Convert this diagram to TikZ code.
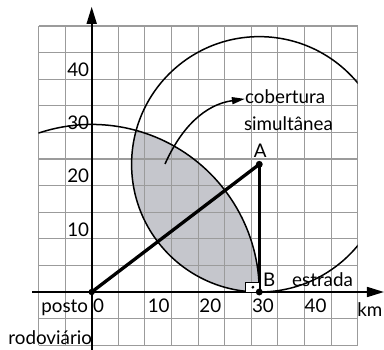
\documentclass[tikz,border=0pt]{standalone}
\usepackage{fontspec}
\setmainfont{Lato}
\usetikzlibrary{arrows.meta}
\definecolor{shadec}{RGB}{197,198,204}
\definecolor{gridc}{RGB}{155,155,155}
\begin{document}
\begin{tikzpicture}[x=5.32bp,y=5.32bp,
  gridline/.style={draw=gridc,line width=1.1bp},
  circ/.style={draw=black,line width=1.5bp},
  axis/.style={draw=black,line width=1.6bp,-{Triangle[length=17bp,width=10bp]}},
  seg/.style={draw=black,line width=3.3bp},
  lbl/.style={inner sep=0pt,font=\fontsize{18.8bp}{20bp}\selectfont},
  dotc/.style={fill=black}]
\useasboundingbox (-17.237,-10.902) rectangle (54.944,54.887);
\coordinate (O) at (0,0);
\coordinate (A) at (31.5,24);
\coordinate (B) at (31.5,0);
\begin{scope}
  \clip (O) circle (31.5);
  \fill[shadec] (A) circle (24);
\end{scope}
\draw[gridline] (-10,-10) grid[step=5] (50,50);
\draw[circ] (B) arc[start angle=0,end angle=108.51,radius=31.5];
\begin{scope}
  \clip (-20,-20) rectangle (50,60);
  \draw[circ] (A) circle (24);
\end{scope}
\coordinate (ybot) at (0,-11);
\coordinate (ytop) at (0,53.6);
\coordinate (xl) at (-11.2,0);
\coordinate (xr) at (54.94,0);
\draw[axis] (ybot) -- (ytop);
\draw[axis] (xl) -- (xr);
\draw[seg] (O) -- (A);
\draw[seg] (A) -- (B);
\draw[line width=1bp,fill=white] (29.0,0) rectangle (31.5,1.7);
\fill (30.3,0.9) circle (0.3);
\fill[dotc] (O) circle (0.6);
\fill[dotc] (A) circle (0.65);
\fill[dotc] (B) circle (0.65);
% y labels
\node[lbl,anchor=base east] (y10) at (-0.45,10.5) {10};
\node[lbl,anchor=base east] (y20) at (-0.45,20.5) {20};
\node[lbl,anchor=base east] (y30) at (-0.45,30.5) {30};
\node[lbl,anchor=base east] (y40) at (-0.45,40.5) {40};
% x labels
\node[lbl,anchor=base west] (x0) at (0.25,-3.76) {0};
\node[lbl,anchor=base west] (x10) at (10.5,-3.76) {10};
\node[lbl,anchor=base west] (x20) at (20.2,-3.76) {20};
\node[lbl,anchor=base west] (x30) at (30.1,-3.76) {30};
\node[lbl,anchor=base west] (x40) at (40.0,-3.76) {40};
\node[lbl,anchor=base east] (posto) at (-0.65,-3.76) {posto};
\node[lbl,anchor=base east] (rodo) at (0.1,-9.9) {rodoviário};
\node[lbl,anchor=base west] (estrada) at (37.65,1.0) {estrada};
\node[lbl,anchor=base west] (km) at (49.9,-4.64) {km};
\node[lbl,anchor=base] (lA) at (31.7,25.3) {A};
\node[lbl,anchor=base west] (lB) at (32.2,1.0) {B};
\node[lbl,anchor=base west] (cob) at (28.8,35.5) {cobertura};
\node[lbl,anchor=base west] (sim) at (28.6,30.45) {simultânea};
\coordinate (cs) at (13.78,24.06);
\draw[line width=1.5bp,-{Triangle[length=13bp,width=7bp]}] (cs) to[out=66,in=188] (cob.west |- 0,36.3);
\end{tikzpicture}
\end{document}
